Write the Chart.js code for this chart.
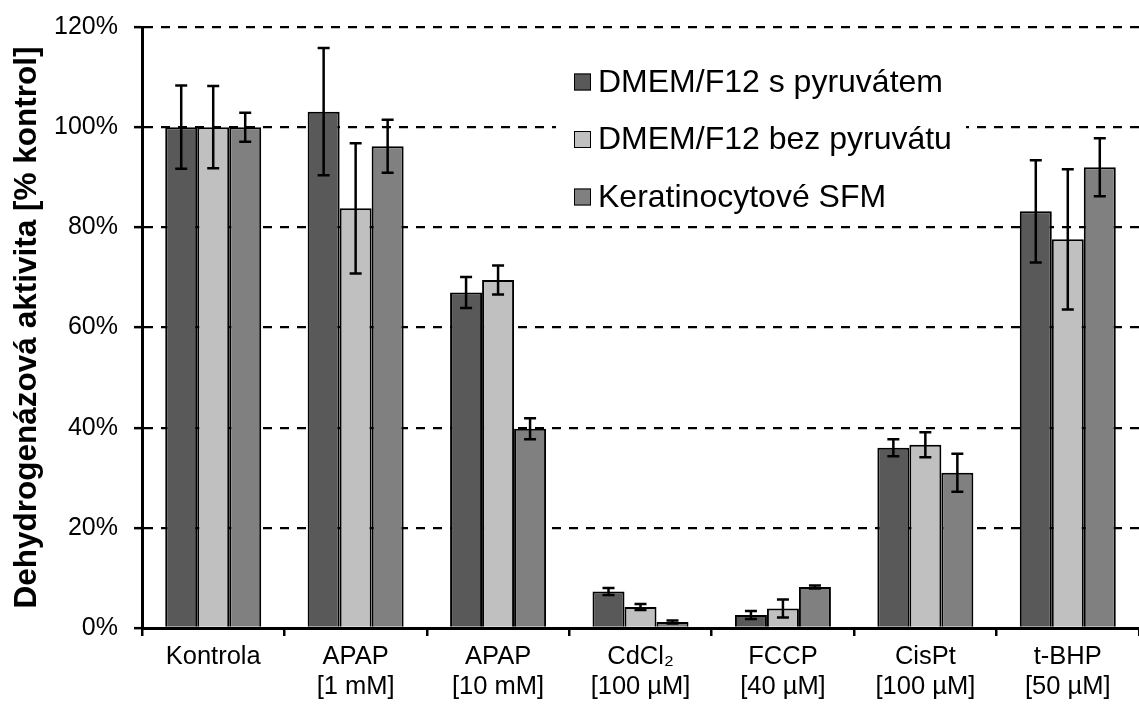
<!DOCTYPE html>
<html>
<head>
<meta charset="utf-8">
<script src="https://cdn.jsdelivr.net/npm/chart.js@4"></script>
<style>
    html, body { margin: 0; padding: 0; background: #fff; }
    #wrap { width: 1139px; height: 704px; position: relative; }
</style>
</head>
<body>
<div id="wrap"><canvas id="Bar__canvas_1"></canvas></div>
<script>
// data
var categories = [
    'Kontrola',
    ['APAP', '[1 mM]'],
    ['APAP', '[10 mM]'],
    ['CdCl\u2082', '[100 \u00b5M]'],
    ['FCCP', '[40 \u00b5M]'],
    ['CisPt', '[100 \u00b5M]'],
    ['t-BHP', '[50 \u00b5M]']
];
var seriesNames = ['DMEM/F12 s pyruvátem', 'DMEM/F12 bez pyruvátu', 'Keratinocytové SFM'];
var withPyruvate = [100, 103.1, 67.0, 7.3, 2.6, 36.0, 83.2];
var withoutPyruvate = [100, 83.8, 69.5, 4.2, 3.9, 36.6, 77.6];
var keratinoSFM = [100, 96.2, 39.8, 1.2, 8.2, 31.0, 92.0];
var errWithPyruvate = [8.3, 12.7, 3.1, 0.7, 0.8, 1.7, 10.2];
var errWithoutPyruvate = [8.2, 13.0, 2.9, 0.6, 1.8, 2.5, 14.0];
var errKeratinoSFM = [2.9, 5.3, 2.1, 0.3, 0.3, 3.8, 5.8];
var yTicks = [0, 20, 40, 60, 80, 100, 120];

var colors = ['#595959', '#c0c0c0', '#808080'];
var FONT = "'Liberation Sans', Arial, sans-serif";

//#region plugins
var errorBars = {
    id: 'errorBars',
    afterDatasetsDraw: function (chart) {
        var ctx = chart.ctx;
        var y = chart.scales.y;
        ctx.save();
        ctx.strokeStyle = '#000';
        ctx.lineWidth = 2.5;
        chart.data.datasets.forEach(function (ds, i) {
            var meta = chart.getDatasetMeta(i);
            meta.data.forEach(function (bar, j) {
                var v = ds.data[j], e = ds.errors[j];
                var top = y.getPixelForValue(v + e);
                var bot = y.getPixelForValue(v - e);
                ctx.beginPath();
                ctx.moveTo(bar.x, top); ctx.lineTo(bar.x, bot);
                ctx.moveTo(bar.x - 6, top); ctx.lineTo(bar.x + 6, top);
                ctx.moveTo(bar.x - 6, bot); ctx.lineTo(bar.x + 6, bot);
                ctx.stroke();
            });
        });
        ctx.restore();
    }
};

var boxLegend = {
    id: 'boxLegend',
    afterDatasetsDraw: function (chart) {
        var ctx = chart.ctx;
        ctx.save();
        ctx.fillStyle = '#fff';
        ctx.fillRect(556, 44, 410, 180);
        ctx.font = '32px ' + FONT;
        ctx.textBaseline = 'middle';
        chart.data.datasets.forEach(function (ds, i) {
            var cy = 82 + i * 57.5;
            ctx.fillStyle = ds.backgroundColor;
            ctx.fillRect(574, cy - 8.5, 17, 17);
            ctx.strokeStyle = '#000';
            ctx.lineWidth = 1;
            ctx.strokeRect(574.5, cy - 8, 16, 16);
            ctx.fillStyle = '#000';
            ctx.fillText(ds.label, 598, cy + 1);
        });
        ctx.restore();
    }
};
//#endregion plugins

function Bar_status_1() {
    var ctr = document.getElementById('Bar__canvas_1');
    var values = [withPyruvate, withoutPyruvate, keratinoSFM];
    var errs = [errWithPyruvate, errWithoutPyruvate, errKeratinoSFM];
    var bar = new Chart(ctr, {
        type: 'bar',
        data: {
            labels: categories,
            datasets: seriesNames.map(function (name, i) {
                return {
                    label: name,
                    data: values[i],
                    errors: errs[i],
                    backgroundColor: colors[i],
                    borderColor: '#000',
                    borderWidth: 2,
                    barPercentage: 1,
                    categoryPercentage: 0.674
                };
            })
        },
        options: {
            responsive: true,
            maintainAspectRatio: false,
            animation: false,
            layout: { padding: { top: 27, right: 0, left: 0, bottom: 0 } },
            plugins: {
                legend: { display: false },
                tooltip: { enabled: false }
            },
            scales: {
                x: {
                    grid: {
                        display: true,
                        drawOnChartArea: false,
                        offset: true,
                        color: '#000',
                        lineWidth: 2.5,
                        tickLength: 8
                    },
                    border: { color: '#000', width: 3 },
                    ticks: {
                        color: '#000',
                        font: { family: FONT, size: 25.5, lineHeight: 1.17 },
                        padding: 6,
                        maxRotation: 0,
                        autoSkip: false
                    },
                    afterFit: function (scale) { scale.height = 76; }
                },
                y: {
                    min: 0,
                    max: 120,
                    afterBuildTicks: function (scale) {
                        scale.ticks = yTicks.map(function (v) { return { value: v }; });
                    },
                    grid: {
                        color: '#000',
                        lineWidth: 2.3,
                        tickLength: 8,
                        tickWidth: 2.5,
                        tickBorderDash: []
                    },
                    border: { color: '#000', width: 3, dash: [9, 8] },
                    ticks: {
                        color: '#000',
                        font: { family: FONT, size: 25 },
                        padding: 16,
                        callback: function (v) { return v + '%'; }
                    },
                    title: {
                        display: true,
                        text: 'Dehydrogenázová aktivita [% kontrol]',
                        color: '#000',
                        font: { family: FONT, size: 31.5, weight: 'bold' },
                        padding: { top: 8, bottom: 0 }
                    },
                    afterFit: function (scale) {
                        scale.width = 142;
                        scale.paddingTop = 0;
                        scale.paddingBottom = 0;
                    }
                }
            }
        },
        plugins: [boxLegend, errorBars]
    });
}

Bar_status_1();
</script>
</body>
</html>
